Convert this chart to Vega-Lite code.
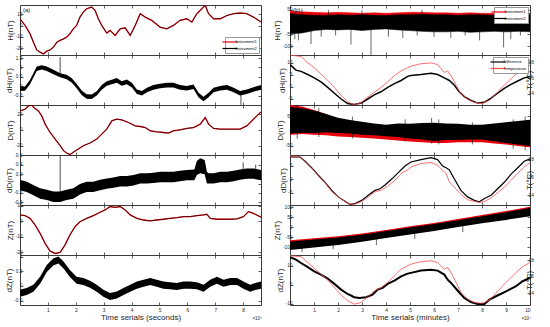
{
"$schema": "https://vega.github.io/schema/vega-lite/v6.json",
"padding": {"left": 4, "top": 4, "right": 1, "bottom": 1},
"config": {
  "font": "Liberation Sans",
  "view": {"stroke": "#3a3a3a", "strokeWidth": 1},
  "axis": {"domain": false, "grid": false, "tickColor": "#3a3a3a", "tickSize": -3, "tickWidth": 0.8, "labelFontSize": 4.8, "labelColor": "#262626", "labelPadding": 1, "titleFontSize": 8, "titleFontWeight": "normal", "titleColor": "#262626", "titlePadding": 0.5, "labelFont": "Liberation Sans", "titleFont": "Liberation Sans"},
  "axisY": {"labelOverlap": false, "labelFlush": false},
  "legend": {"labelFontSize": 4, "labelFont": "Liberation Sans", "symbolType": "M-3,0H3", "symbolSize": 25, "symbolStrokeWidth": 1.2, "rowPadding": 0.5, "padding": 1.5, "strokeColor": "#999", "fillColor": "white", "labelOffset": 2, "offset": 2, "labelLimit": 60}
},
"datasets": {
  "aH": [{"t":0,"v":6.1},{"t":0.18,"v":0.2},{"t":0.36,"v":-7.2},{"t":0.48,"v":-14.6},{"t":0.6,"v":-21.5},{"t":0.72,"v":-23.5},{"t":0.84,"v":-25},{"t":0.96,"v":-22.6},{"t":1.08,"v":-21.5},{"t":1.2,"v":-19},{"t":1.32,"v":-14.6},{"t":1.44,"v":-13},{"t":1.56,"v":-11.7},{"t":1.67,"v":-10.2},{"t":1.79,"v":-7.2},{"t":1.91,"v":-2.8},{"t":2.03,"v":0.2},{"t":2.15,"v":7.6},{"t":2.27,"v":12},{"t":2.39,"v":15},{"t":2.57,"v":16.5},{"t":2.69,"v":13.6},{"t":2.81,"v":6.1},{"t":2.93,"v":0.2},{"t":3.11,"v":-6.6},{"t":3.23,"v":-4.2},{"t":3.41,"v":-8.7},{"t":3.59,"v":-2.8},{"t":3.77,"v":-1.9},{"t":3.95,"v":-8.7},{"t":4.13,"v":0.2},{"t":4.31,"v":10.6},{"t":4.49,"v":7.6},{"t":4.72,"v":4.7},{"t":5.02,"v":-1.3},{"t":5.26,"v":-2.8},{"t":5.5,"v":0.2},{"t":5.74,"v":4.7},{"t":5.98,"v":6.1},{"t":6.16,"v":3.2},{"t":6.34,"v":10.6},{"t":6.52,"v":15},{"t":6.64,"v":18},{"t":6.76,"v":10.6},{"t":6.94,"v":6.1},{"t":7.18,"v":6.1},{"t":7.42,"v":9},{"t":7.66,"v":10.6},{"t":7.89,"v":11.2},{"t":8.13,"v":10.6},{"t":8.37,"v":7.6},{"t":8.64,"v":3.2}],
  "aDH": [{"t":0,"lo":-0.24,"hi":0.0},{"t":0.18,"lo":-0.23,"hi":0.0},{"t":0.36,"lo":0.12,"hi":0.35},{"t":0.48,"lo":0.47,"hi":0.7},{"t":0.6,"lo":0.82,"hi":1.05},{"t":0.78,"lo":0.9,"hi":1.12},{"t":0.96,"lo":0.82,"hi":1.05},{"t":1.2,"lo":0.64,"hi":0.88},{"t":1.44,"lo":0.48,"hi":0.7},{"t":1.67,"lo":0.38,"hi":0.62},{"t":1.85,"lo":0.21,"hi":0.44},{"t":2.03,"lo":-0.1,"hi":0.14},{"t":2.21,"lo":-0.45,"hi":-0.21},{"t":2.39,"lo":-0.65,"hi":-0.41},{"t":2.57,"lo":-0.66,"hi":-0.42},{"t":2.75,"lo":-0.48,"hi":-0.25},{"t":2.93,"lo":-0.17,"hi":0.07},{"t":3.11,"lo":0.04,"hi":0.28},{"t":3.29,"lo":0.12,"hi":0.35},{"t":3.47,"lo":0.2,"hi":0.44},{"t":3.65,"lo":0.04,"hi":0.28},{"t":3.83,"lo":0.12,"hi":0.36},{"t":4.01,"lo":-0.05,"hi":0.19},{"t":4.19,"lo":-0.4,"hi":-0.16},{"t":4.37,"lo":-0.48,"hi":-0.24},{"t":4.55,"lo":-0.31,"hi":-0.07},{"t":4.78,"lo":-0.17,"hi":0.07},{"t":5.02,"lo":-0.1,"hi":0.14},{"t":5.26,"lo":-0.05,"hi":0.19},{"t":5.5,"lo":-0.05,"hi":0.2},{"t":5.74,"lo":-0.17,"hi":0.07},{"t":5.98,"lo":-0.22,"hi":0.02},{"t":6.22,"lo":-0.14,"hi":0.1},{"t":6.4,"lo":-0.57,"hi":-0.33},{"t":6.58,"lo":-0.78,"hi":-0.55},{"t":6.76,"lo":-0.57,"hi":-0.33},{"t":6.94,"lo":-0.31,"hi":-0.07},{"t":7.18,"lo":-0.22,"hi":0.02},{"t":7.42,"lo":-0.17,"hi":0.07},{"t":7.66,"lo":-0.31,"hi":-0.07},{"t":7.89,"lo":-0.48,"hi":-0.24},{"t":8.13,"lo":-0.4,"hi":-0.16},{"t":8.37,"lo":-0.28,"hi":-0.04},{"t":8.64,"lo":-0.17,"hi":0.07}],
  "aDHs": [{"t":1.44,"lo":0.6,"hi":1.55},{"t":7.92,"lo":-0.97,"hi":-0.4}],
  "aD": [{"t":0,"v":24},{"t":0.18,"v":26.1},{"t":0.3,"v":30.3},{"t":0.42,"v":31.2},{"t":0.54,"v":27},{"t":0.66,"v":24},{"t":0.78,"v":17.7},{"t":0.9,"v":7.2},{"t":1.08,"v":-3.4},{"t":1.26,"v":-11.8},{"t":1.44,"v":-20.2},{"t":1.56,"v":-26.5},{"t":1.67,"v":-29.5},{"t":1.79,"v":-31.5},{"t":1.91,"v":-28.6},{"t":2.09,"v":-24.4},{"t":2.27,"v":-20.2},{"t":2.51,"v":-16.8},{"t":2.75,"v":-11.8},{"t":2.93,"v":-5.5},{"t":3.11,"v":0.8},{"t":3.29,"v":11.4},{"t":3.47,"v":13.5},{"t":3.65,"v":12.6},{"t":3.89,"v":9.3},{"t":4.13,"v":5},{"t":4.31,"v":4.2},{"t":4.49,"v":2.9},{"t":4.67,"v":-1.3},{"t":4.9,"v":-2.5},{"t":5.14,"v":-3.4},{"t":5.32,"v":-4.2},{"t":5.5,"v":-1.3},{"t":5.74,"v":0},{"t":5.98,"v":1.7},{"t":6.22,"v":2.9},{"t":6.46,"v":7.2},{"t":6.64,"v":15.6},{"t":6.76,"v":7.2},{"t":6.94,"v":1.7},{"t":7.18,"v":0.8},{"t":7.54,"v":0.8},{"t":7.89,"v":0.8},{"t":8.13,"v":5},{"t":8.37,"v":13.5},{"t":8.64,"v":22.7}],
  "aDD": [{"t":0,"lo":-0.14,"hi":0.08},{"t":0.24,"lo":-0.18,"hi":0.04},{"t":0.48,"lo":-0.25,"hi":-0.03},{"t":0.72,"lo":-0.32,"hi":-0.1},{"t":0.96,"lo":-0.35,"hi":-0.13},{"t":1.2,"lo":-0.39,"hi":-0.17},{"t":1.44,"lo":-0.39,"hi":-0.17},{"t":1.67,"lo":-0.35,"hi":-0.13},{"t":1.91,"lo":-0.32,"hi":-0.1},{"t":2.15,"lo":-0.23,"hi":-0.01},{"t":2.39,"lo":-0.18,"hi":0.04},{"t":2.63,"lo":-0.18,"hi":0.04},{"t":2.87,"lo":-0.14,"hi":0.08},{"t":3.11,"lo":-0.11,"hi":0.11},{"t":3.35,"lo":-0.09,"hi":0.13},{"t":3.59,"lo":-0.06,"hi":0.16},{"t":3.83,"lo":-0.06,"hi":0.16},{"t":4.07,"lo":-0.04,"hi":0.18},{"t":4.31,"lo":0.0,"hi":0.22},{"t":4.55,"lo":0.0,"hi":0.22},{"t":4.78,"lo":0.01,"hi":0.23},{"t":5.02,"lo":0.03,"hi":0.25},{"t":5.26,"lo":0.03,"hi":0.25},{"t":5.5,"lo":0.03,"hi":0.25},{"t":5.74,"lo":0.05,"hi":0.27},{"t":5.98,"lo":0.07,"hi":0.29},{"t":6.25,"lo":0.07,"hi":0.3},{"t":6.34,"lo":0.18,"hi":0.48},{"t":6.46,"lo":0.22,"hi":0.54},{"t":6.62,"lo":0.2,"hi":0.5},{"t":6.7,"lo":0.0,"hi":0.25},{"t":6.76,"lo":0.0,"hi":0.22},{"t":6.94,"lo":0.0,"hi":0.22},{"t":7.18,"lo":0.03,"hi":0.25},{"t":7.42,"lo":0.03,"hi":0.25},{"t":7.66,"lo":0.05,"hi":0.27},{"t":7.89,"lo":0.08,"hi":0.3},{"t":8.13,"lo":0.1,"hi":0.32},{"t":8.37,"lo":0.1,"hi":0.32},{"t":8.64,"lo":0.07,"hi":0.29}],
  "aDDs": [{"t":1.44,"lo":-0.2,"hi":0.6},{"t":8.0,"lo":0.1,"hi":0.45},{"t":8.45,"lo":0.1,"hi":0.4}],
  "aZ": [{"t":0,"v":4.2},{"t":0.18,"v":3.7},{"t":0.36,"v":2},{"t":0.54,"v":-2.3},{"t":0.72,"v":-7.7},{"t":0.9,"v":-14.2},{"t":1.08,"v":-19.2},{"t":1.26,"v":-20.7},{"t":1.44,"v":-20},{"t":1.61,"v":-15.3},{"t":1.79,"v":-8.8},{"t":1.97,"v":-3.4},{"t":2.15,"v":-0.2},{"t":2.39,"v":2},{"t":2.63,"v":3.7},{"t":2.87,"v":5.9},{"t":3.05,"v":7.4},{"t":3.23,"v":9.6},{"t":3.41,"v":9.1},{"t":3.59,"v":9.6},{"t":3.77,"v":7.4},{"t":3.95,"v":4.2},{"t":4.19,"v":2},{"t":4.43,"v":0.9},{"t":4.67,"v":0.3},{"t":4.9,"v":0.9},{"t":5.14,"v":1.4},{"t":5.38,"v":2},{"t":5.62,"v":2.4},{"t":5.86,"v":3.1},{"t":6.1,"v":3.1},{"t":6.34,"v":3.7},{"t":6.58,"v":4.2},{"t":6.7,"v":4.6},{"t":6.82,"v":2},{"t":7.06,"v":1.4},{"t":7.3,"v":1.4},{"t":7.54,"v":1.4},{"t":7.78,"v":1.6},{"t":8.01,"v":3.1},{"t":8.19,"v":6.3},{"t":8.37,"v":5.2},{"t":8.64,"v":2.7}],
  "aDZ": [{"t":0,"lo":-0.37,"hi":-0.13},{"t":0.24,"lo":-0.31,"hi":-0.07},{"t":0.48,"lo":-0.2,"hi":0.04},{"t":0.72,"lo":0.08,"hi":0.32},{"t":0.96,"lo":0.48,"hi":0.72},{"t":1.2,"lo":0.71,"hi":0.95},{"t":1.38,"lo":0.77,"hi":1.01},{"t":1.56,"lo":0.6,"hi":0.84},{"t":1.79,"lo":0.31,"hi":0.55},{"t":2.03,"lo":0.08,"hi":0.32},{"t":2.27,"lo":0.03,"hi":0.27},{"t":2.51,"lo":-0.06,"hi":0.18},{"t":2.75,"lo":-0.2,"hi":0.04},{"t":2.99,"lo":-0.37,"hi":-0.13},{"t":3.23,"lo":-0.48,"hi":-0.24},{"t":3.47,"lo":-0.43,"hi":-0.19},{"t":3.71,"lo":-0.31,"hi":-0.07},{"t":3.95,"lo":-0.2,"hi":0.04},{"t":4.19,"lo":-0.09,"hi":0.15},{"t":4.43,"lo":-0.03,"hi":0.21},{"t":4.67,"lo":0.03,"hi":0.27},{"t":4.9,"lo":-0.03,"hi":0.21},{"t":5.14,"lo":-0.09,"hi":0.15},{"t":5.38,"lo":-0.11,"hi":0.13},{"t":5.62,"lo":-0.14,"hi":0.1},{"t":5.86,"lo":-0.09,"hi":0.15},{"t":6.1,"lo":-0.09,"hi":0.15},{"t":6.34,"lo":-0.11,"hi":0.13},{"t":6.58,"lo":-0.2,"hi":0.04},{"t":6.82,"lo":-0.03,"hi":0.21},{"t":7.06,"lo":0.08,"hi":0.32},{"t":7.3,"lo":-0.03,"hi":0.21},{"t":7.54,"lo":0.03,"hi":0.27},{"t":7.78,"lo":0.03,"hi":0.27},{"t":8.01,"lo":-0.09,"hi":0.15},{"t":8.25,"lo":-0.2,"hi":0.04},{"t":8.43,"lo":-0.14,"hi":0.1},{"t":8.64,"lo":-0.09,"hi":0.15}],
  "bH": [{"t":0,"lo2":-48,"hi2":35,"lo1":-15,"hi1":45},{"t":0.5,"lo2":-45,"hi2":30,"lo1":-12,"hi1":42},{"t":1,"lo2":-35,"hi2":28,"lo1":-8,"hi1":40},{"t":1.5,"lo2":-30,"hi2":27,"lo1":-5,"hi1":38},{"t":2,"lo2":-32,"hi2":30,"lo1":-6,"hi1":40},{"t":2.5,"lo2":-30,"hi2":28,"lo1":-5,"hi1":38},{"t":3,"lo2":-35,"hi2":30,"lo1":-8,"hi1":36},{"t":3.5,"lo2":-30,"hi2":28,"lo1":-6,"hi1":38},{"t":4,"lo2":-28,"hi2":27,"lo1":-4,"hi1":36},{"t":4.5,"lo2":-32,"hi2":30,"lo1":-6,"hi1":38},{"t":5,"lo2":-35,"hi2":30,"lo1":-8,"hi1":40},{"t":5.5,"lo2":-38,"hi2":32,"lo1":-10,"hi1":40},{"t":6,"lo2":-40,"hi2":30,"lo1":-12,"hi1":38},{"t":6.5,"lo2":-40,"hi2":30,"lo1":-10,"hi1":38},{"t":7,"lo2":-38,"hi2":28,"lo1":-8,"hi1":36},{"t":7.5,"lo2":-42,"hi2":30,"lo1":-10,"hi1":38},{"t":8,"lo2":-40,"hi2":30,"lo1":-8,"hi1":36},{"t":8.5,"lo2":-38,"hi2":28,"lo1":-8,"hi1":36},{"t":9,"lo2":-40,"hi2":30,"lo1":-10,"hi1":38},{"t":9.5,"lo2":-38,"hi2":28,"lo1":-8,"hi1":36},{"t":10,"lo2":-40,"hi2":30,"lo1":-8,"hi1":36}],
  "bHs": [{"t":0.2,"lo":-70,"hi":0},{"t":0.35,"lo":-75,"hi":0},{"t":0.5,"lo":0,"hi":55},{"t":0.875,"lo":-90,"hi":0},{"t":1.3,"lo":-60,"hi":0},{"t":1.6,"lo":0,"hi":50},{"t":1.9,"lo":-55,"hi":0},{"t":2.54,"lo":-92,"hi":0},{"t":3.0,"lo":0,"hi":48},{"t":3.375,"lo":-140,"hi":0},{"t":4.1,"lo":-60,"hi":0},{"t":4.7,"lo":-65,"hi":0},{"t":5.3,"lo":-55,"hi":0},{"t":5.5,"lo":0,"hi":50},{"t":6.0,"lo":-60,"hi":0},{"t":6.7,"lo":-65,"hi":0},{"t":7.3,"lo":-55,"hi":0},{"t":7.9,"lo":-75,"hi":0},{"t":8.9,"lo":-104,"hi":0},{"t":9.2,"lo":-70,"hi":0},{"t":9.6,"lo":-55,"hi":0}],
  "b2d": [{"t":0,"v":9.3},{"t":0.25,"v":7.0},{"t":0.46,"v":6.5},{"t":0.74,"v":5.2},{"t":1.01,"v":3.8},{"t":1.29,"v":2.1},{"t":1.57,"v":-0.2},{"t":1.85,"v":-2.6},{"t":2.13,"v":-5.0},{"t":2.4,"v":-6.9},{"t":2.68,"v":-7.3},{"t":2.96,"v":-6.7},{"t":3.24,"v":-5.0},{"t":3.51,"v":-3.3},{"t":3.79,"v":-2.0},{"t":4.07,"v":-0.2},{"t":4.35,"v":1.4},{"t":4.63,"v":2.7},{"t":4.9,"v":4.4},{"t":5.04,"v":4.8},{"t":5.46,"v":5.2},{"t":5.88,"v":5.7},{"t":6.15,"v":5.2},{"t":6.43,"v":3.8},{"t":6.64,"v":2.7},{"t":6.85,"v":0.7},{"t":7.05,"v":-2.0},{"t":7.26,"v":-4.0},{"t":7.54,"v":-5.6},{"t":7.82,"v":-6.7},{"t":8.1,"v":-6.4},{"t":8.38,"v":-4.6},{"t":8.65,"v":-2.6},{"t":8.93,"v":-0.6},{"t":9.21,"v":1.1},{"t":9.49,"v":2.5},{"t":9.76,"v":3.8},{"t":10,"v":4.4}],
  "b2T": [{"t":0,"v":18.9},{"t":0.46,"v":18.7},{"t":0.74,"v":17.9},{"t":1.01,"v":17.3},{"t":1.29,"v":16.5},{"t":1.57,"v":15.7},{"t":1.85,"v":14.8},{"t":2.13,"v":13.8},{"t":2.4,"v":13.0},{"t":2.68,"v":12.6},{"t":2.96,"v":12.9},{"t":3.24,"v":13.6},{"t":3.51,"v":14.2},{"t":3.79,"v":14.8},{"t":4.07,"v":15.5},{"t":4.35,"v":16.3},{"t":4.63,"v":16.9},{"t":4.9,"v":17.3},{"t":5.04,"v":17.5},{"t":5.46,"v":17.8},{"t":5.88,"v":17.9},{"t":6.15,"v":17.7},{"t":6.43,"v":16.7},{"t":6.57,"v":16.9},{"t":6.71,"v":16.3},{"t":6.92,"v":15.1},{"t":7.12,"v":14.0},{"t":7.4,"v":13.3},{"t":7.68,"v":12.9},{"t":8.03,"v":12.8},{"t":8.31,"v":13.2},{"t":8.58,"v":14.0},{"t":8.86,"v":14.9},{"t":9.14,"v":15.7},{"t":9.42,"v":16.5},{"t":9.69,"v":17.1},{"t":10,"v":17.6}],
  "bD": [{"t":0,"lo2":-8,"hi2":82,"lo1":-12,"hi1":88},{"t":0.5,"lo2":-5,"hi2":78,"lo1":-10,"hi1":84},{"t":1,"lo2":-6,"hi2":70,"lo1":-12,"hi1":72},{"t":1.5,"lo2":-4,"hi2":58,"lo1":-14,"hi1":58},{"t":2,"lo2":-6,"hi2":46,"lo1":-18,"hi1":42},{"t":2.5,"lo2":-8,"hi2":38,"lo1":-20,"hi1":34},{"t":3,"lo2":-12,"hi2":32,"lo1":-22,"hi1":26},{"t":3.5,"lo2":-14,"hi2":26,"lo1":-25,"hi1":22},{"t":4,"lo2":-17,"hi2":22,"lo1":-28,"hi1":18},{"t":4.5,"lo2":-20,"hi2":26,"lo1":-32,"hi1":20},{"t":5,"lo2":-25,"hi2":25,"lo1":-35,"hi1":20},{"t":5.5,"lo2":-28,"hi2":28,"lo1":-38,"hi1":22},{"t":6,"lo2":-33,"hi2":29,"lo1":-40,"hi1":22},{"t":6.5,"lo2":-30,"hi2":26,"lo1":-40,"hi1":20},{"t":7,"lo2":-30,"hi2":25,"lo1":-38,"hi1":20},{"t":7.5,"lo2":-28,"hi2":22,"lo1":-38,"hi1":18},{"t":8,"lo2":-28,"hi2":22,"lo1":-38,"hi1":18},{"t":8.5,"lo2":-34,"hi2":26,"lo1":-42,"hi1":20},{"t":9,"lo2":-40,"hi2":30,"lo1":-45,"hi1":25},{"t":9.5,"lo2":-45,"hi2":35,"lo1":-50,"hi1":28},{"t":10,"lo2":-50,"hi2":39,"lo1":-55,"hi1":32}],
  "bDs": [{"t":0.3,"lo":-25,"hi":90},{"t":1.2,"lo":-20,"hi":80},{"t":2.6,"lo":-25,"hi":50},{"t":4.8,"lo":-35,"hi":40},{"t":5.9,"lo":-42,"hi":45},{"t":6.2,"lo":-45,"hi":40},{"t":7.6,"lo":-45,"hi":30},{"t":9.3,"lo":-60,"hi":40},{"t":9.8,"lo":-65,"hi":50}],
  "b4d": [{"t":0,"v":8.2},{"t":0.4,"v":8.2},{"t":0.63,"v":6.6},{"t":0.9,"v":4.2},{"t":1.18,"v":1.4},{"t":1.46,"v":-1.2},{"t":1.74,"v":-4.2},{"t":2.01,"v":-6.6},{"t":2.29,"v":-8.2},{"t":2.5,"v":-9.4},{"t":2.71,"v":-9.1},{"t":2.99,"v":-7.9},{"t":3.26,"v":-6.0},{"t":3.54,"v":-4.2},{"t":3.75,"v":-3.6},{"t":3.96,"v":-2.2},{"t":4.24,"v":0},{"t":4.51,"v":2.4},{"t":4.79,"v":4.8},{"t":5.04,"v":6.3},{"t":5.46,"v":7.2},{"t":5.88,"v":7.9},{"t":6.15,"v":7.2},{"t":6.36,"v":4.8},{"t":6.5,"v":4.2},{"t":6.64,"v":3.4},{"t":6.85,"v":0},{"t":7.12,"v":-4.2},{"t":7.4,"v":-6.6},{"t":7.68,"v":-7.9},{"t":7.89,"v":-8.4},{"t":8.1,"v":-7.2},{"t":8.38,"v":-6.0},{"t":8.65,"v":-3.6},{"t":8.93,"v":-1.2},{"t":9.21,"v":1.8},{"t":9.49,"v":4.2},{"t":9.76,"v":6.6},{"t":10,"v":7.5}],
  "b4T": [{"t":0,"v":18.4},{"t":0.4,"v":18.4},{"t":0.63,"v":17.8},{"t":0.9,"v":17.1},{"t":1.18,"v":16.2},{"t":1.46,"v":15.4},{"t":1.74,"v":14.4},{"t":2.01,"v":13.8},{"t":2.29,"v":13.3},{"t":2.5,"v":13.0},{"t":2.71,"v":13.0},{"t":2.99,"v":13.3},{"t":3.26,"v":13.8},{"t":3.54,"v":14.4},{"t":3.82,"v":14.6},{"t":4.1,"v":15.1},{"t":4.38,"v":15.7},{"t":4.65,"v":16.5},{"t":4.93,"v":16.9},{"t":5.04,"v":17.2},{"t":5.46,"v":17.6},{"t":5.88,"v":17.7},{"t":6.15,"v":17.4},{"t":6.36,"v":16.8},{"t":6.5,"v":16.5},{"t":6.64,"v":15.5},{"t":6.85,"v":14.9},{"t":7.12,"v":14.1},{"t":7.4,"v":13.5},{"t":7.68,"v":13.3},{"t":7.89,"v":13.2},{"t":8.1,"v":13.3},{"t":8.38,"v":13.7},{"t":8.65,"v":14.3},{"t":8.93,"v":14.9},{"t":9.21,"v":15.7},{"t":9.49,"v":16.5},{"t":9.76,"v":17.2},{"t":10,"v":17.7}],
  "bZ": [{"t":0,"lo2":-115,"hi2":-72,"lo1":-100,"hi1":-66},{"t":1,"lo2":-102,"hi2":-62,"lo1":-88,"hi1":-56},{"t":2,"lo2":-90,"hi2":-52,"lo1":-75,"hi1":-46},{"t":3,"lo2":-74,"hi2":-38,"lo1":-58,"hi1":-32},{"t":4,"lo2":-55,"hi2":-20,"lo1":-40,"hi1":-14},{"t":5,"lo2":-37,"hi2":-2,"lo1":-22,"hi1":4},{"t":6,"lo2":-20,"hi2":15,"lo1":-5,"hi1":21},{"t":7,"lo2":0,"hi2":35,"lo1":15,"hi1":41},{"t":8,"lo2":20,"hi2":55,"lo1":35,"hi1":61},{"t":9,"lo2":36,"hi2":75,"lo1":52,"hi1":81},{"t":10,"lo2":55,"hi2":96,"lo1":70,"hi1":102}],
  "bZs": [{"t":0.5,"lo":-125,"hi":-80},{"t":1.8,"lo":-110,"hi":-60},{"t":3.6,"lo":-90,"hi":-40},{"t":5.2,"lo":-60,"hi":-10},{"t":7.2,"lo":-25,"hi":20}],
  "b6d": [{"t":0,"v":14.4},{"t":0.25,"v":13.2},{"t":0.46,"v":11.4},{"t":0.74,"v":9.2},{"t":1.01,"v":7.0},{"t":1.29,"v":5.3},{"t":1.57,"v":3.2},{"t":1.85,"v":0.4},{"t":2.13,"v":-2.6},{"t":2.4,"v":-4.9},{"t":2.68,"v":-6.6},{"t":2.89,"v":-7.0},{"t":3.17,"v":-6.6},{"t":3.44,"v":-5.3},{"t":3.65,"v":-2.6},{"t":3.86,"v":-1.7},{"t":4.07,"v":0.4},{"t":4.35,"v":2.1},{"t":4.63,"v":4.4},{"t":4.9,"v":5.8},{"t":5.04,"v":6.2},{"t":5.46,"v":7.4},{"t":5.88,"v":7.9},{"t":6.15,"v":7.4},{"t":6.43,"v":5.3},{"t":6.57,"v":2.6},{"t":6.71,"v":0.9},{"t":6.99,"v":-3.2},{"t":7.26,"v":-7.0},{"t":7.54,"v":-9.1},{"t":7.82,"v":-10.2},{"t":8.1,"v":-10.2},{"t":8.31,"v":-7.9},{"t":8.58,"v":-6.1},{"t":8.86,"v":-4.4},{"t":9.14,"v":-2.6},{"t":9.42,"v":-0.8},{"t":9.69,"v":1.8},{"t":10,"v":3.5}],
  "b6T": [{"t":0,"v":18.5},{"t":0.46,"v":18.4},{"t":0.74,"v":17.7},{"t":1.01,"v":17.0},{"t":1.29,"v":16.3},{"t":1.57,"v":15.6},{"t":1.85,"v":14.7},{"t":2.13,"v":13.8},{"t":2.4,"v":13.1},{"t":2.68,"v":12.7},{"t":2.96,"v":12.9},{"t":3.24,"v":13.6},{"t":3.51,"v":14.3},{"t":3.79,"v":14.7},{"t":4.07,"v":15.3},{"t":4.35,"v":16.1},{"t":4.63,"v":16.9},{"t":4.9,"v":17.3},{"t":5.04,"v":17.5},{"t":5.46,"v":17.8},{"t":5.88,"v":17.9},{"t":6.15,"v":17.7},{"t":6.43,"v":16.9},{"t":6.57,"v":17.1},{"t":6.71,"v":16.5},{"t":6.92,"v":15.3},{"t":7.12,"v":14.1},{"t":7.4,"v":13.3},{"t":7.68,"v":12.9},{"t":8.03,"v":12.8},{"t":8.31,"v":13.2},{"t":8.58,"v":14.0},{"t":8.86,"v":14.9},{"t":9.14,"v":15.7},{"t":9.42,"v":16.5},{"t":9.69,"v":17.2},{"t":10,"v":17.7}]
},
"spacing": 10,
"resolve": {"scale": {"color": "independent", "stroke": "independent"}, "legend": {"color": "independent", "stroke": "independent"}},
"hconcat": [
 {"spacing": 0, "bounds": "flush",
  "resolve": {"scale": {"color": "independent", "stroke": "independent"}, "legend": {"color": "independent", "stroke": "independent"}},
  "vconcat": [
   {"width": 241, "height": 50, "resolve": {"axis": {"x": "independent", "y": "independent"}}, "layer": [
     {"data": {"name": "aH"}, "mark": {"type": "line", "strokeWidth": 1.3, "clip": true},
      "encoding": {
        "x": {"field": "t", "type": "quantitative", "scale": {"domain": [0, 8.64], "nice": false, "zero": false}, "axis": {"values": [1,2,3,4,5,6,7,8], "labels": false, "title": null}},
        "y": {"field": "v", "type": "quantitative", "scale": {"domain": [-26, 18.3], "nice": false, "zero": false}, "axis": {"values": [-20,-10,0,10], "title": "H(nT)", "labelExpr": "'' + datum.value"}},
        "color": {"datum": "Instrument1", "type": "nominal", "scale": {"domain": ["Instrument1", "Instrument2"], "range": ["#e8000b", "#000000"]}, "legend": {"orient": "bottom-right", "title": null}}}},
     {"data": {"name": "aH"}, "mark": {"type": "line", "strokeWidth": 0.6, "clip": true},
      "encoding": {"x": {"field": "t", "type": "quantitative", "axis": {"orient": "top", "values": [1,2,3,4,5,6,7,8], "labels": false, "title": null}}, "y": {"field": "v", "type": "quantitative", "axis": {"orient": "right", "values": [-20,-10,0,10], "labels": false, "title": null}}, "color": {"datum": "Instrument2", "type": "nominal"}}},
     {"data": {"values": [{"s": "(a)"}]}, "mark": {"type": "text", "align": "left", "baseline": "top", "dx": 3, "dy": 2, "fontSize": 6, "color": "#111"},
      "encoding": {"x": {"datum": 0, "type": "quantitative", "axis": null}, "y": {"datum": 18.3, "type": "quantitative", "axis": null}, "text": {"field": "s"}}}
   ]},
   {"width": 241, "height": 50, "resolve": {"axis": {"x": "independent", "y": "independent"}}, "layer": [
     {"data": {"name": "aDH"}, "mark": {"type": "area", "color": "#000", "clip": true},
      "encoding": {
        "x": {"field": "t", "type": "quantitative", "scale": {"domain": [0, 8.64], "nice": false, "zero": false}, "axis": {"values": [1,2,3,4,5,6,7,8], "labels": false, "title": null}},
        "y": {"field": "lo", "type": "quantitative", "scale": {"domain": [-0.98, 1.66], "nice": false, "zero": false}, "axis": {"values": [-0.5,0,0.5,1,1.5], "title": "dH(nT)", "labelExpr": "'' + datum.value"}},
        "y2": {"field": "hi"}}},
     {"data": {"name": "aDHs"}, "mark": {"type": "rule", "color": "#000", "strokeWidth": 0.7, "clip": true},
      "encoding": {"x": {"field": "t", "type": "quantitative", "axis": {"orient": "top", "values": [1,2,3,4,5,6,7,8], "labels": false, "title": null}}, "y": {"field": "lo", "type": "quantitative", "axis": {"orient": "right", "values": [-0.5,0,0.5,1,1.5], "labels": false, "title": null}}, "y2": {"field": "hi"}}}
   ]},
   {"width": 241, "height": 50, "resolve": {"axis": {"x": "independent", "y": "independent"}}, "layer": [
     {"data": {"name": "aD"}, "mark": {"type": "line", "strokeWidth": 1.3, "color": "#e8000b", "clip": true},
      "encoding": {
        "x": {"field": "t", "type": "quantitative", "scale": {"domain": [0, 8.64], "nice": false, "zero": false}, "axis": {"values": [1,2,3,4,5,6,7,8], "labels": false, "title": null}},
        "y": {"field": "v", "type": "quantitative", "scale": {"domain": [-32, 31.5], "nice": false, "zero": false}, "axis": {"values": [-20,0,20], "title": "D(nT)", "labelExpr": "'' + datum.value"}}}},
     {"data": {"name": "aD"}, "mark": {"type": "line", "strokeWidth": 0.6, "color": "#000", "clip": true},
      "encoding": {"x": {"field": "t", "type": "quantitative", "axis": {"orient": "top", "values": [1,2,3,4,5,6,7,8], "labels": false, "title": null}}, "y": {"field": "v", "type": "quantitative", "axis": {"orient": "right", "values": [-20,0,20], "labels": false, "title": null}}}}
   ]},
   {"width": 241, "height": 50, "resolve": {"axis": {"x": "independent", "y": "independent"}}, "layer": [
     {"data": {"name": "aDD"}, "mark": {"type": "area", "color": "#000", "clip": true},
      "encoding": {
        "x": {"field": "t", "type": "quantitative", "scale": {"domain": [0, 8.64], "nice": false, "zero": false}, "axis": {"values": [1,2,3,4,5,6,7,8], "labels": false, "title": null}},
        "y": {"field": "lo", "type": "quantitative", "scale": {"domain": [-0.455, 0.607], "nice": false, "zero": false}, "axis": {"values": [-0.4,-0.2,0,0.2,0.4,0.6], "title": "dD(nT)", "labelExpr": "'' + datum.value"}},
        "y2": {"field": "hi"}}},
     {"data": {"name": "aDDs"}, "mark": {"type": "rule", "color": "#000", "strokeWidth": 0.7, "clip": true},
      "encoding": {"x": {"field": "t", "type": "quantitative", "axis": {"orient": "top", "values": [1,2,3,4,5,6,7,8], "labels": false, "title": null}}, "y": {"field": "lo", "type": "quantitative", "axis": {"orient": "right", "values": [-0.4,-0.2,0,0.2,0.4,0.6], "labels": false, "title": null}}, "y2": {"field": "hi"}}}
   ]},
   {"width": 241, "height": 50, "resolve": {"axis": {"x": "independent", "y": "independent"}}, "layer": [
     {"data": {"name": "aZ"}, "mark": {"type": "line", "strokeWidth": 1.3, "color": "#e8000b", "clip": true},
      "encoding": {
        "x": {"field": "t", "type": "quantitative", "scale": {"domain": [0, 8.64], "nice": false, "zero": false}, "axis": {"values": [1,2,3,4,5,6,7,8], "labels": false, "title": null}},
        "y": {"field": "v", "type": "quantitative", "scale": {"domain": [-21.7, 10.6], "nice": false, "zero": false}, "axis": {"values": [-20,-10,0,10], "title": "Z(nT)", "labelExpr": "'' + datum.value"}}}},
     {"data": {"name": "aZ"}, "mark": {"type": "line", "strokeWidth": 0.6, "color": "#000", "clip": true},
      "encoding": {"x": {"field": "t", "type": "quantitative", "axis": {"orient": "top", "values": [1,2,3,4,5,6,7,8], "labels": false, "title": null}}, "y": {"field": "v", "type": "quantitative", "axis": {"orient": "right", "values": [-20,-10,0,10], "labels": false, "title": null}}}}
   ]},
   {"width": 241, "height": 50, "resolve": {"axis": {"x": "independent", "y": "independent"}}, "layer": [
     {"data": {"name": "aDZ"}, "mark": {"type": "area", "color": "#000", "clip": true},
      "encoding": {
        "x": {"field": "t", "type": "quantitative", "scale": {"domain": [0, 8.64], "nice": false, "zero": false}, "axis": {"values": [1,2,3,4,5,6,7,8], "title": "Time serials (seconds)", "labelExpr": "'' + datum.value", "labelPadding": 5, "titlePadding": 2}},
        "y": {"field": "lo", "type": "quantitative", "scale": {"domain": [-0.65, 1.06], "nice": false, "zero": false}, "axis": {"values": [-0.5,0,0.5,1], "title": "dZ(nT)", "labelExpr": "'' + datum.value"}},
        "y2": {"field": "hi"}}},
     {"data": {"values": [{"s": "×10⁴"}]}, "mark": {"type": "text", "align": "right", "baseline": "middle", "dx": 1, "dy": 14, "fontSize": 4.5, "color": "#262626"},
      "encoding": {"x": {"datum": 8.64, "type": "quantitative", "axis": {"orient": "top", "values": [1,2,3,4,5,6,7,8], "labels": false, "title": null}}, "y": {"datum": -0.65, "type": "quantitative", "axis": {"orient": "right", "values": [-0.5,0,0.5,1], "labels": false, "title": null}}, "text": {"field": "s"}}}
   ]}
  ]},
 {"spacing": 0, "bounds": "flush",
  "resolve": {"scale": {"color": "independent", "stroke": "independent"}, "legend": {"color": "independent", "stroke": "independent"}},
  "vconcat": [
   {"width": 240, "height": 50, "resolve": {"axis": {"x": "independent", "y": "independent"}}, "layer": [
     {"data": {"name": "bH"}, "mark": {"type": "area", "fill": "#e8000b", "strokeWidth": 0.5, "clip": true},
      "encoding": {
        "x": {"field": "t", "type": "quantitative", "scale": {"domain": [0, 10], "nice": false, "zero": false}, "axis": {"values": [1,2,3,4,5,6,7,8,9,10], "labels": false, "title": null}},
        "y": {"field": "lo1", "type": "quantitative", "scale": {"domain": [-135, 70], "nice": false, "zero": false}, "axis": {"values": [-100,-50,0,50], "title": "H(nT)", "labelExpr": "'' + datum.value"}},
        "y2": {"field": "hi1"},
        "stroke": {"datum": "Instrument1", "type": "nominal", "scale": {"domain": ["Instrument1", "Instrument2"], "range": ["#e8000b", "#000000"]}, "legend": {"orient": "top-right", "title": null}}}},
     {"data": {"name": "bH"}, "mark": {"type": "area", "fill": "#000", "strokeWidth": 0.5, "clip": true},
      "encoding": {"x": {"field": "t", "type": "quantitative", "axis": {"orient": "top", "values": [1,2,3,4,5,6,7,8,9,10], "labels": false, "title": null}}, "y": {"field": "lo2", "type": "quantitative", "axis": {"orient": "right", "values": [-100,-50,0,50], "labels": false, "title": null}}, "y2": {"field": "hi2"}, "stroke": {"datum": "Instrument2", "type": "nominal"}}},
     {"data": {"name": "bHs"}, "mark": {"type": "rule", "color": "#000", "strokeWidth": 0.6, "clip": true},
      "encoding": {"x": {"field": "t", "type": "quantitative", "axis": null}, "y": {"field": "lo", "type": "quantitative", "axis": null}, "y2": {"field": "hi"}}},
     {"data": {"values": [{"s": "(b)"}]}, "mark": {"type": "text", "align": "left", "baseline": "top", "dx": 3, "dy": 2, "fontSize": 6, "color": "#111"},
      "encoding": {"x": {"datum": 0, "type": "quantitative", "axis": null}, "y": {"datum": 70, "type": "quantitative", "axis": null}, "text": {"field": "s"}}}
   ]},
   {"width": 240, "height": 50, "resolve": {"scale": {"y": "independent"}, "axis": {"x": "independent", "y": "independent"}}, "layer": [
     {"data": {"name": "b2d"}, "mark": {"type": "line", "strokeWidth": 1.5, "clip": true},
      "encoding": {
        "x": {"field": "t", "type": "quantitative", "scale": {"domain": [0, 10], "nice": false, "zero": false}, "axis": {"values": [1,2,3,4,5,6,7,8,9,10], "labels": false, "title": null}},
        "y": {"field": "v", "type": "quantitative", "scale": {"domain": [-7.5, 13.3], "nice": false, "zero": false}, "axis": {"values": [-5,0,5,10], "title": "dH(nT)", "labelExpr": "'' + datum.value"}},
        "color": {"datum": "Difference", "type": "nominal", "scale": {"domain": ["Difference", "Temperature"], "range": ["#000000", "#ff4d4d"]}, "legend": {"orient": "top-right", "title": null}}}},
     {"data": {"name": "b2T"}, "mark": {"type": "line", "strokeWidth": 0.8, "clip": true},
      "encoding": {
        "x": {"field": "t", "type": "quantitative", "axis": {"orient": "top", "values": [1,2,3,4,5,6,7,8,9,10], "labels": false, "title": null}},
        "y": {"field": "v", "type": "quantitative", "scale": {"domain": [12.6, 18.9], "nice": false, "zero": false}, "axis": {"orient": "right", "values": [14,16,18], "title": "T(°C)", "titleAngle": 270, "labelExpr": "'' + datum.value"}},
        "color": {"datum": "Temperature", "type": "nominal"}}}
   ]},
   {"width": 240, "height": 50, "resolve": {"axis": {"x": "independent", "y": "independent"}}, "layer": [
     {"data": {"name": "bD"}, "mark": {"type": "area", "color": "#e8000b", "clip": true},
      "encoding": {
        "x": {"field": "t", "type": "quantitative", "scale": {"domain": [0, 10], "nice": false, "zero": false}, "axis": {"values": [1,2,3,4,5,6,7,8,9,10], "labels": false, "title": null}},
        "y": {"field": "lo1", "type": "quantitative", "scale": {"domain": [-81, 89], "nice": false, "zero": false}, "axis": {"values": [-50,0,50], "title": "D(nT)", "labelExpr": "'' + datum.value"}},
        "y2": {"field": "hi1"}}},
     {"data": {"name": "bD"}, "mark": {"type": "area", "color": "#000", "clip": true},
      "encoding": {"x": {"field": "t", "type": "quantitative", "axis": {"orient": "top", "values": [1,2,3,4,5,6,7,8,9,10], "labels": false, "title": null}}, "y": {"field": "lo2", "type": "quantitative", "axis": {"orient": "right", "values": [-50,0,50], "labels": false, "title": null}}, "y2": {"field": "hi2"}}},
     {"data": {"name": "bDs"}, "mark": {"type": "rule", "color": "#000", "strokeWidth": 0.6, "clip": true},
      "encoding": {"x": {"field": "t", "type": "quantitative", "axis": null}, "y": {"field": "lo", "type": "quantitative", "axis": null}, "y2": {"field": "hi"}}}
   ]},
   {"width": 240, "height": 50, "resolve": {"scale": {"y": "independent"}, "axis": {"x": "independent", "y": "independent"}}, "layer": [
     {"data": {"name": "b4d"}, "mark": {"type": "line", "strokeWidth": 1.2, "color": "#000", "clip": true},
      "encoding": {
        "x": {"field": "t", "type": "quantitative", "scale": {"domain": [0, 10], "nice": false, "zero": false}, "axis": {"values": [1,2,3,4,5,6,7,8,9,10], "labels": false, "title": null}},
        "y": {"field": "v", "type": "quantitative", "scale": {"domain": [-9.6, 8.9], "nice": false, "zero": false}, "axis": {"values": [-5,0,5], "title": "dD(nT)", "labelExpr": "'' + datum.value"}}}},
     {"data": {"name": "b4T"}, "mark": {"type": "line", "strokeWidth": 0.8, "color": "#ff4d4d", "clip": true},
      "encoding": {
        "x": {"field": "t", "type": "quantitative", "axis": {"orient": "top", "values": [1,2,3,4,5,6,7,8,9,10], "labels": false, "title": null}},
        "y": {"field": "v", "type": "quantitative", "scale": {"domain": [12.9, 18.55], "nice": false, "zero": false}, "axis": {"orient": "right", "values": [14,16,18], "title": "T(°C)", "titleAngle": 270, "labelExpr": "'' + datum.value"}}}}
   ]},
   {"width": 240, "height": 50, "resolve": {"axis": {"x": "independent", "y": "independent"}}, "layer": [
     {"data": {"name": "bZ"}, "mark": {"type": "area", "color": "#e8000b", "clip": true},
      "encoding": {
        "x": {"field": "t", "type": "quantitative", "scale": {"domain": [0, 10], "nice": false, "zero": false}, "axis": {"values": [1,2,3,4,5,6,7,8,9,10], "labels": false, "title": null}},
        "y": {"field": "lo1", "type": "quantitative", "scale": {"domain": [-140, 111], "nice": false, "zero": false}, "axis": {"values": [-100,-50,0,50,100], "title": "Z(nT)", "labelExpr": "'' + datum.value"}},
        "y2": {"field": "hi1"}}},
     {"data": {"name": "bZ"}, "mark": {"type": "area", "color": "#000", "clip": true},
      "encoding": {"x": {"field": "t", "type": "quantitative", "axis": {"orient": "top", "values": [1,2,3,4,5,6,7,8,9,10], "labels": false, "title": null}}, "y": {"field": "lo2", "type": "quantitative", "axis": {"orient": "right", "values": [-100,-50,0,50,100], "labels": false, "title": null}}, "y2": {"field": "hi2"}}},
     {"data": {"name": "bZs"}, "mark": {"type": "rule", "color": "#000", "strokeWidth": 0.6, "clip": true},
      "encoding": {"x": {"field": "t", "type": "quantitative", "axis": null}, "y": {"field": "lo", "type": "quantitative", "axis": null}, "y2": {"field": "hi"}}}
   ]},
   {"width": 240, "height": 50, "resolve": {"scale": {"y": "independent"}, "axis": {"x": "independent", "y": "independent"}}, "layer": [
     {"data": {"name": "b6d"}, "mark": {"type": "line", "strokeWidth": 2, "color": "#000", "clip": true},
      "encoding": {
        "x": {"field": "t", "type": "quantitative", "scale": {"domain": [0, 10], "nice": false, "zero": false}, "axis": {"values": [1,2,3,4,5,6,7,8,9,10], "title": "Time serials (minutes)", "labelExpr": "'' + datum.value", "labelPadding": 5, "titlePadding": 2}},
        "y": {"field": "v", "type": "quantitative", "scale": {"domain": [-10.7, 15.6], "nice": false, "zero": false}, "axis": {"values": [-10,0,10], "title": "dZ(nT)", "labelExpr": "'' + datum.value"}}}},
     {"data": {"name": "b6T"}, "mark": {"type": "line", "strokeWidth": 0.8, "color": "#ff4d4d", "clip": true},
      "encoding": {
        "x": {"field": "t", "type": "quantitative", "axis": {"orient": "top", "values": [1,2,3,4,5,6,7,8,9,10], "labels": false, "title": null}},
        "y": {"field": "v", "type": "quantitative", "scale": {"domain": [12.6, 18.6], "nice": false, "zero": false}, "axis": {"orient": "right", "values": [14,16,18], "title": "T(°C)", "titleAngle": 270, "labelExpr": "'' + datum.value"}}}},
     {"data": {"values": [{"s": "×10⁴"}]}, "mark": {"type": "text", "align": "right", "baseline": "middle", "dx": 1, "dy": 14, "fontSize": 4.5, "color": "#262626"},
      "encoding": {"x": {"datum": 10, "type": "quantitative", "axis": null}, "y": {"datum": -10.7, "type": "quantitative", "scale": {"domain": [-10.7, 15.6], "nice": false, "zero": false}, "axis": null}, "text": {"field": "s"}}}
   ]}
  ]}
]
}
